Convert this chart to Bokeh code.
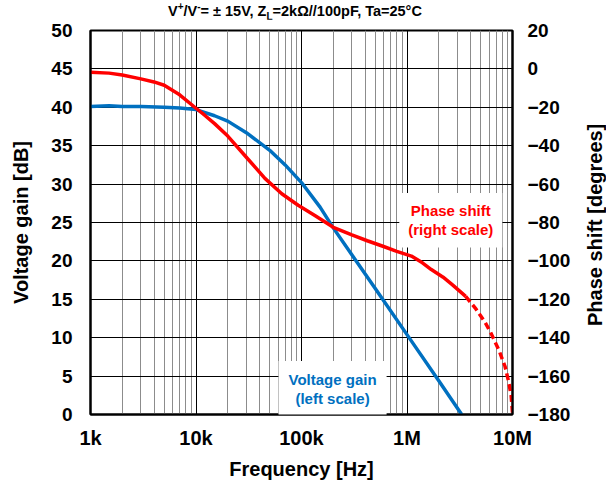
from bokeh.plotting import figure
from bokeh.layouts import column, row
from bokeh.models import Range1d, LinearAxis, FixedTicker, Label, Div
from bokeh.embed import file_html
from bokeh.resources import INLINE

# ---- data ----
freq_gain = [1000, 1500, 2000, 3000, 5000, 7000, 10000, 15000, 20000, 30000, 50000,
             70000, 100000, 150000, 200000, 300000, 500000, 1000000, 2000000, 3300000]
gain_db = [40.1, 40.2, 40.1, 40.1, 40.0, 39.9, 39.7, 38.9, 38.2, 36.7, 34.4,
           32.5, 30.2, 27.0, 24.3, 20.8, 16.4, 10.4, 4.4, 0.0]

freq_phase = [1000, 1500, 2000, 3000, 4000, 5000, 7000, 10000, 12000, 15000, 20000,
              30000, 45000, 65000, 93000, 135000, 200000, 300000, 420000, 600000,
              800000, 1100000, 1400000, 1700000, 2200000, 2700000, 3600000]
phase_deg = [-1.7, -2.2, -3.2, -5.2, -6.8, -8.5, -13.5, -20.5, -24.0, -28.5, -35.0,
             -46.0, -57.0, -65.0, -71.0, -76.5, -82.5, -86.5, -89.5, -92.5,
             -95.0, -97.5, -101.0, -104.5, -108.5, -112.5, -118.5]

freq_phase_ext = [3600000, 4500000, 5500000, 6300000, 7500000, 8500000, 9200000, 9700000, 10000000]
phase_deg_ext = [-118.5, -125.0, -132.0, -138.0, -147.0, -155.0, -163.0, -170.0, -179.0]

x_ticks = [1e3, 1e4, 1e5, 1e6, 1e7]
x_tick_labels = ["1k", "10k", "100k", "1M", "10M"]
gain_ticks = [0, 5, 10, 15, 20, 25, 30, 35, 40, 45, 50]
phase_ticks = [-180, -160, -140, -120, -100, -80, -60, -40, -20, 0, 20]

BLUE = "#0070C0"
RED = "#FF0000"
FONT = "Liberation Sans"

minor = [k * 10 ** d for d in range(3, 7) for k in range(2, 10)]

MAIN_W = 583      # width of title + figure column
SIDE_W = 30       # strip holding the right axis title
TITLE_H = 19

SUP = '<sup style="font-size:10px;line-height:0">'
SUB = '<sub style="font-size:10px;line-height:0">'
title = Div(text=("V" + SUP + "+</sup>/V" + SUP + "-</sup>= &plusmn; 15V, Z" + SUB + "L</sub>"
                  "=2k&Omega;//100pF, Ta=25&deg;C"),
            width=MAIN_W, height=TITLE_H, margin=0,
            styles={"font-family": FONT, "font-weight": "bold", "font-size": "14.5px",
                    "color": "black", "text-indent": "168px", "line-height": "22px",
                    "white-space": "nowrap"})

right_title = Div(
    text=('<div style="height:450px;width:24px;display:flex;align-items:center;'
          'justify-content:center;writing-mode:vertical-rl;transform:rotate(180deg);'
          'font-family:\'Liberation Sans\';font-weight:bold;font-size:20px;color:black;'
          'white-space:nowrap">Phase shift [degrees]</div>'),
    width=SIDE_W, height=484, margin=0)

p = figure(width=MAIN_W, height=484 - TITLE_H, x_axis_type="log", x_range=(1e3, 1e7), y_range=(0, 50),
           output_backend="svg", toolbar_location=None, margin=0,
           min_border_left=90, min_border_right=MAIN_W - 512, min_border_top=30 - TITLE_H,
           min_border_bottom=70)
p.extra_y_ranges = {"phase": Range1d(-180, 20)}
p.background_fill_color = "white"
p.border_fill_color = "white"
p.outline_line_color = "black"
p.outline_line_width = 2

xt = FixedTicker(ticks=x_ticks, minor_ticks=minor)
p.xaxis.ticker = xt
p.xgrid.ticker = xt
p.xaxis.major_label_overrides = {int(t): s for t, s in zip(x_ticks, x_tick_labels)}
ax_l = p.left[0]
ax_l.ticker = FixedTicker(ticks=gain_ticks)
p.ygrid.ticker = FixedTicker(ticks=gain_ticks)

p.xgrid.grid_line_color = "black"
p.xgrid.grid_line_width = 1
p.xgrid.minor_grid_line_color = "#8c8c8c"
p.xgrid.minor_grid_line_width = 1
p.ygrid.grid_line_color = "black"
p.ygrid.grid_line_width = 1

ax_r = LinearAxis(y_range_name="phase", ticker=FixedTicker(ticks=phase_ticks))
p.add_layout(ax_r, "right")
ax_b = p.below[0]

for ax in [ax_b, ax_l, ax_r]:
    ax.major_tick_out = 0
    ax.major_tick_in = 0
    ax.minor_tick_out = 0
    ax.minor_tick_in = 0
    ax.axis_line_color = "black"
    ax.axis_line_width = 2
    ax.major_label_text_font = FONT
    ax.major_label_text_font_style = "bold"
    ax.major_label_text_color = "black"
    ax.axis_label_text_font = FONT
    ax.axis_label_text_font_style = "bold"
    ax.axis_label_text_color = "black"
    ax.axis_label_text_font_size = "20px"

ax_b.axis_label = "Frequency [Hz]"
ax_l.axis_label = "Voltage gain [dB]"
ax_b.major_label_text_font_size = "20px"
ax_l.major_label_text_font_size = "19px"
ax_r.major_label_text_font_size = "19px"
ax_b.major_label_standoff = 12
ax_b.axis_label_standoff = 6
ax_l.major_label_standoff = 18
ax_l.axis_label_standoff = 16
ax_r.major_label_standoff = 15

p.line(freq_gain, gain_db, line_color=BLUE, line_width=3.5)
p.line(freq_phase, phase_deg, line_color=RED, line_width=3.5, y_range_name="phase")
p.line(freq_phase_ext, phase_deg_ext, line_color=RED, line_width=3.5, line_dash="7 4",
       y_range_name="phase")

# in-plot captions
p.add_layout(Label(x=2.6e6, y=25.3, text="Phase shift\n(right scale)", text_align="center",
                   text_baseline="middle", text_color=RED, text_font=FONT, text_font_style="bold",
                   text_font_size="15px", background_fill_color="white", padding=9,
                   text_line_height=1.15))
p.add_layout(Label(x=1.97e5, y=3.3, text="Voltage gain\n(left scale)", text_align="center",
                   text_baseline="middle", text_color=BLUE, text_font=FONT, text_font_style="bold",
                   text_font_size="15px", background_fill_color="white", padding=10,
                   text_line_height=1.15))

layout = row(column(title, p, spacing=0), right_title, spacing=0)
open("out.html", "w").write(file_html(layout, INLINE))
